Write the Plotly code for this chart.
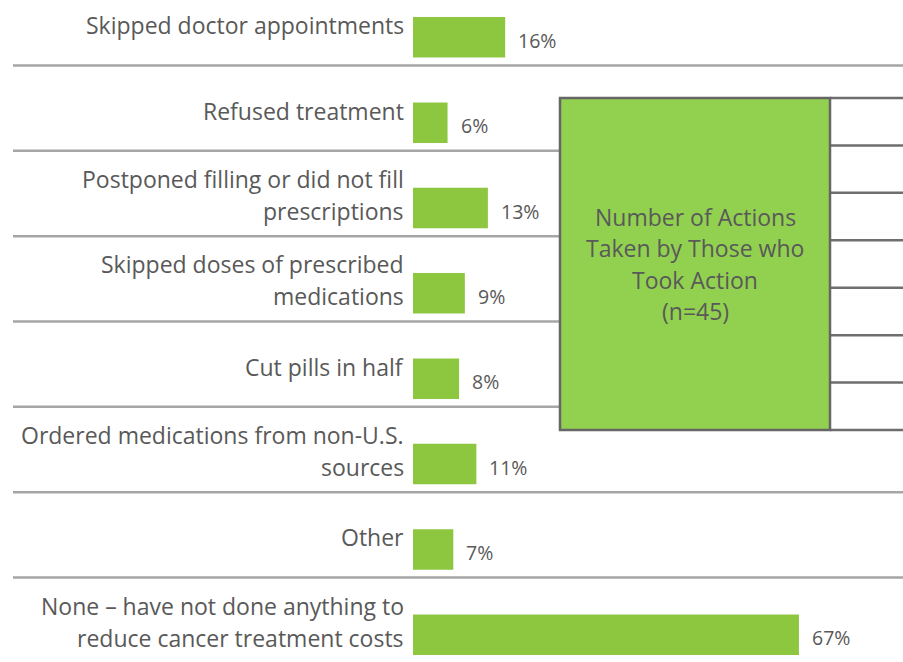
import plotly.graph_objects as go

categories = [
    "Skipped doctor appointments",
    "Refused treatment",
    "Postponed filling or did not fill\nprescriptions",
    "Skipped doses of prescribed\nmedications",
    "Cut pills in half",
    "Ordered medications from non-U.S.\nsources",
    "Other",
    "None – have not done anything to\nreduce cancer treatment costs",
]
values = [16, 6, 13, 9, 8, 11, 7, 67]
value_labels = ["16%", "6%", "13%", "9%", "8%", "11%", "7%", "67%"]
box_title = ["Number of Actions", "Taken by Those who", "Took Action", "(n=45)"]

W, H = 903, 662
BAR_X0 = 413          # pixel where bars start
PX_PER_UNIT = 5.76    # pixels per percentage point
ROW0 = 37.3           # pixel centre of first row
ROW_H = 85.35         # pixel distance between rows

def ydata(p):
    return (p - ROW0) / ROW_H

def xdata(p):
    return (p - BAR_X0) / PX_PER_UNIT

TEXT = "#595959"
FONT = "Open Sans"

fig = go.Figure()
ypos = list(range(len(categories)))
fig.add_trace(go.Bar(
    x=values, y=ypos, orientation="h", width=0.475,
    marker=dict(color="#8DC63F", line=dict(width=0)),
    hoverinfo="skip",
))

ann = []
# category labels
for i, c in enumerate(categories):
    lines = c.split("\n")
    if len(lines) == 1:
        shifts = [12]
    else:
        shifts = [29, -3]
    for ln, sh in zip(lines, shifts):
        ann.append(dict(x=0, y=i, xref="x", yref="y", text=ln, showarrow=False,
                        xanchor="right", yanchor="middle", xshift=-7, yshift=sh,
                        font=dict(family=FONT, size=23, color=TEXT)))
# value labels
for i, (v, t) in enumerate(zip(values, value_labels)):
    ann.append(dict(x=v, y=i, xref="x", yref="y", text=t, showarrow=False,
                    xanchor="left", yanchor="middle", xshift=11, yshift=-3,
                    font=dict(family=FONT, size=19.5, color=TEXT)))

# box
bx0, bx1 = xdata(560), xdata(830)
by0, by1 = ydata(98), ydata(430)
tx1 = xdata(903)
shapes = []
# separators
for i in range(len(categories) - 1):
    yy = i + 0.33
    x1 = bx0 if by0 <= yy <= by1 else tx1
    shapes.append(dict(type="line", xref="x", yref="y", x0=xdata(13), x1=x1, y0=yy, y1=yy,
                       line=dict(color="#A6A6A6", width=2.5), layer="below"))
# table lines on the right of box
nrows = 7
for k in range(nrows + 1):
    yy = by0 + (by1 - by0) * k / nrows
    shapes.append(dict(type="line", xref="x", yref="y", x0=bx1, x1=tx1 + 1, y0=yy, y1=yy,
                       line=dict(color="#6E6E6E", width=2.5), layer="above"))
shapes.append(dict(type="rect", xref="x", yref="y", x0=bx0, x1=bx1, y0=by0, y1=by1,
                   fillcolor="#92D050", line=dict(color="#666666", width=2.5), layer="above"))

bcx = (bx0 + bx1) / 2
bcy = (by0 + by1) / 2
for j, t in enumerate(box_title):
    ann.append(dict(x=bcx, y=bcy, xref="x", yref="y", text=t, showarrow=False,
                    xanchor="center", yanchor="middle",
                    yshift=(1.5 - j) * 31.3,
                    font=dict(family=FONT, size=23, color=TEXT)))

fig.update_layout(
    width=W, height=H,
    margin=dict(l=0, r=0, t=0, b=0),
    paper_bgcolor="white", plot_bgcolor="white",
    showlegend=False,
    xaxis=dict(range=[xdata(0), xdata(W)], visible=False, fixedrange=True),
    yaxis=dict(range=[ydata(H), ydata(0)], visible=False, fixedrange=True),
    annotations=ann, shapes=shapes,
)

fig.write_html("out.html", config={"displayModeBar": False},
               post_script="document.body.style.margin='0';")
